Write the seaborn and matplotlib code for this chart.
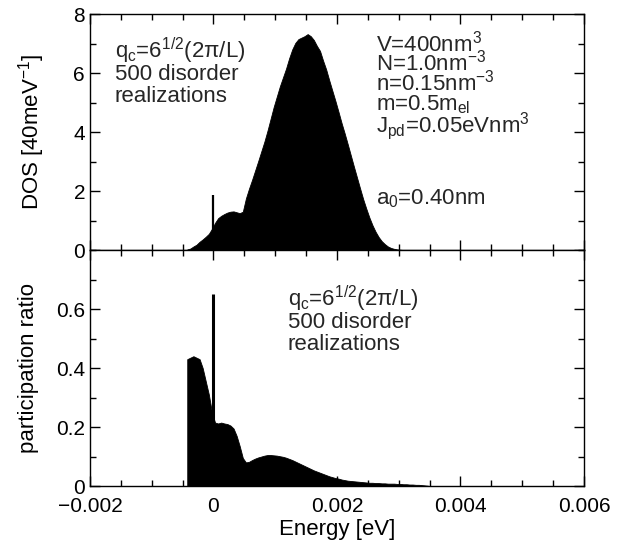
import numpy as np
import pandas as pd
import seaborn as sns
import matplotlib
matplotlib.use("Agg")
import matplotlib.pyplot as plt
from matplotlib.ticker import MultipleLocator

# Data (histogram bins, 0.00005 eV wide)
bin_width = 0.00005
energy = np.round(np.arange(-0.000425, 0.0035, bin_width), 6)

dos = [0.02, 0.05, 0.12, 0.18, 0.28, 0.36, 0.45, 0.55, 0.72,
       0.92, 1.08, 1.16, 1.22, 1.27, 1.30, 1.31, 1.28, 1.25, 1.30,
       1.75, 2.08, 2.38, 2.70, 3.02, 3.35, 3.68, 4.05, 4.45, 4.85,
       5.20, 5.55, 5.85, 6.15, 6.50, 6.80, 7.02, 7.15, 7.20, 7.25,
       7.32, 7.25, 7.12, 6.92, 6.75, 6.42, 6.12, 5.75, 5.40, 5.05,
       4.68, 4.30, 3.95, 3.58, 3.20, 2.82, 2.45, 2.08, 1.72, 1.40,
       1.10, 0.84, 0.62, 0.44, 0.30, 0.20, 0.12, 0.07, 0.04, 0.02,
       0.01, 0.0, 0.0, 0.0, 0.0, 0.0, 0.0, 0.0, 0.0, 0.0]

pr = [0.43, 0.435, 0.44, 0.435, 0.43, 0.40, 0.355, 0.31, 0.25,
      0.215, 0.212, 0.215, 0.212, 0.21, 0.205, 0.195, 0.17, 0.135, 0.095,
      0.08, 0.082, 0.088, 0.093, 0.097, 0.100, 0.103, 0.105, 0.105, 0.104,
      0.103, 0.101, 0.099, 0.096, 0.092, 0.088, 0.083, 0.078, 0.073, 0.068,
      0.063, 0.058, 0.053, 0.049, 0.045, 0.041, 0.037, 0.033, 0.030, 0.027,
      0.025, 0.022, 0.020, 0.018, 0.017, 0.016, 0.015, 0.014, 0.013, 0.012,
      0.011, 0.011, 0.010, 0.010, 0.009, 0.009, 0.008, 0.008, 0.008, 0.007,
      0.007, 0.006, 0.006, 0.005, 0.005, 0.004, 0.004, 0.003, 0.002, 0.001]

# single narrow peak at E = 0
spike_energy = [0.0]
spike_dos = [1.85]
spike_pr = [0.65]

x_ticks = [-0.002, 0.0, 0.002, 0.004, 0.006]
x_tick_labels = ["\u22120.002", "0", "0.002", "0.004", "0.006"]
dos_ticks = [0, 2, 4, 6, 8]
pr_ticks = [0, 0.2, 0.4, 0.6]
pr_tick_labels = ["0", "0.2", "0.4", "0.6"]

note_lines = ["q$_\\mathrm{c}$=6$^{1/2}$(2\u03c0/L)", "500 disorder", "realizations"]
param_lines = ["V=400nm$^3$", "N=1.0nm$^{-3}$", "n=0.15nm$^{-3}$",
               "m=0.5m$_\\mathrm{el}$", "J$_\\mathrm{pd}$=0.05eVnm$^3$",
               "a$_0$=0.40nm"]

df = pd.DataFrame({"energy": energy, "dos": dos, "pr": pr})

sns.set_theme(style="ticks")
plt.rcParams["font.family"] = ["Liberation Sans", "DejaVu Sans"]
plt.rcParams["mathtext.fontset"] = "custom"
plt.rcParams["mathtext.rm"] = "Liberation Sans"
plt.rcParams["mathtext.it"] = "Liberation Sans:italic"
plt.rcParams["mathtext.default"] = "regular"
plt.rcParams["axes.linewidth"] = 1.0
plt.rcParams["axes.edgecolor"] = "black"

edges = list(np.append(energy - bin_width / 2, energy[-1] + bin_width / 2))

fig = plt.figure(figsize=(6.24, 5.44), dpi=100)
ax1 = fig.add_axes([0.1442, 0.5404, 0.7917, 0.4338])
ax2 = fig.add_axes([0.1442, 0.1066, 0.7917, 0.4338])

sns.histplot(data=df, x="energy", weights="dos", bins=edges, element="poly",
             fill=True, color="black", alpha=1, linewidth=0.6, ax=ax1)
ax1.vlines(spike_energy, 0, spike_dos, color="black", lw=1.6)

sns.histplot(data=df, x="energy", weights="pr", bins=edges, element="poly",
             fill=True, color="black", alpha=1, linewidth=0.6, ax=ax2)
ax2.vlines(spike_energy, 0, spike_pr, color="black", lw=2.2)

for ax in (ax1, ax2):
    ax.set_xlim(-0.002, 0.006)
    ax.set_xticks(x_ticks)
    ax.xaxis.set_minor_locator(MultipleLocator(0.0005))
    ax.tick_params(which="both", direction="in", top=True, right=True,
                   colors="black", labelsize=15, width=1.0)
    ax.tick_params(which="major", length=7)
    ax.tick_params(which="minor", length=4)
    ax.tick_params(axis="x", which="major", pad=8)
    for s in ax.spines.values():
        s.set_visible(True)
        s.set_color("black")

ax1.set_ylim(0, 8)
ax1.set_yticks(dos_ticks)
ax1.yaxis.set_minor_locator(MultipleLocator(1))
ax1.tick_params(labelbottom=False)
ax1.set_xlabel("")
ax1.set_ylabel("DOS [40meV$^{-1}$]", fontsize=16, color="black")
ax1.yaxis.set_label_coords(-0.087, 0.5)

ax2.set_ylim(0, 0.8)
ax2.set_yticks(pr_ticks)
ax2.set_yticklabels(pr_tick_labels)
ax2.yaxis.set_minor_locator(MultipleLocator(0.1))
ax2.set_xticklabels(x_tick_labels)
ax2.set_xlabel("Energy [eV]", fontsize=16, color="black", labelpad=2)
ax2.set_ylabel("participation ratio", fontsize=16, color="black")
ax2.yaxis.set_label_coords(-0.103, 0.5)

# annotation lines placed by baseline
for line, yb in zip(note_lines, [6.50, 5.76, 5.03]):
    ax1.text(-0.0016, yb, line, fontsize=16, va="baseline", ha="left")
for line, yb in zip(note_lines, [0.608, 0.535, 0.462]):
    ax2.text(0.0012, yb, line, fontsize=16, va="baseline", ha="left")
for line, yb in zip(param_lines, [6.72, 6.08, 5.40, 4.73, 4.01, 1.53]):
    ax1.text(0.00263, yb, line, fontsize=16, va="baseline", ha="left")

fig.savefig("out.png", dpi=100)
